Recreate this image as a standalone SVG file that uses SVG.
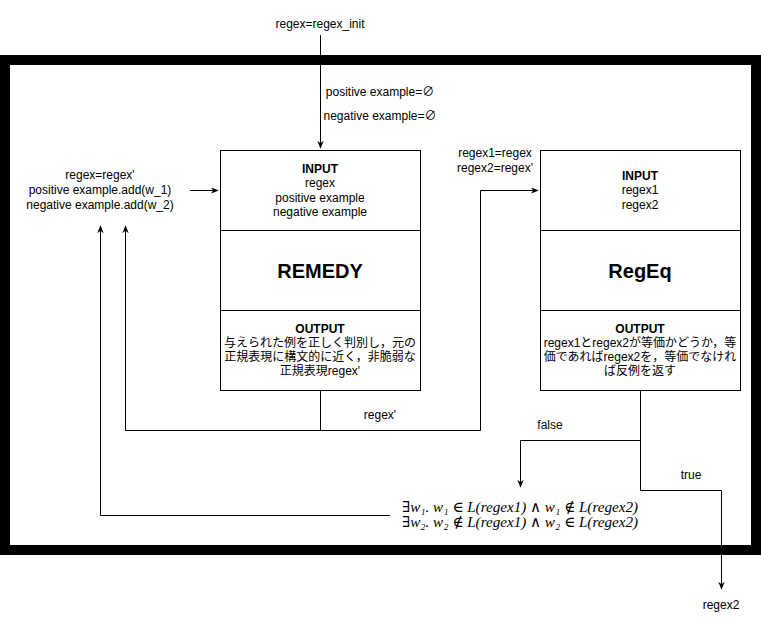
<svg xmlns="http://www.w3.org/2000/svg" width="761" height="621" viewBox="0 0 761 621">
<defs>
<marker id="arr" viewBox="0 0 10 10" refX="9" refY="5" markerWidth="8" markerHeight="8" markerUnits="userSpaceOnUse" orient="auto">
<path d="M0,1 L10,5 L0,9 L3,5 Z" fill="#000"/>
</marker>
</defs>
<style>
text{font-family:"Liberation Sans","Noto Sans CJK JP",sans-serif;font-size:12px;fill:#000}
.c{text-anchor:middle}
.b{font-weight:bold}
.big{font-size:20px;font-weight:bold}
.box{fill:#fff;stroke:#000;stroke-width:1}
.ln{fill:none;stroke:#000;stroke-width:1}
.m{font-family:"Liberation Serif","DejaVu Serif",serif;font-size:15px;font-style:italic}
</style>
<rect width="761" height="621" fill="#fff"/>
<rect id="frame" x="5" y="60" width="751" height="490" fill="none" stroke="#000" stroke-width="10"/>

<g id="connectors">
<path class="ln" d="M320.5,35 V148" marker-end="url(#arr)"/>
<path class="ln" d="M190,190.5 H218" marker-end="url(#arr)"/>
<path class="ln" d="M320.5,390 V430.5 H125.5 V226" marker-end="url(#arr)"/>
<path class="ln" d="M320.5,430.5 H480.5 V190.5 H538" marker-end="url(#arr)"/>
<path class="ln" d="M640.5,390 V440.5 H520.5 V487" marker-end="url(#arr)"/>
<path class="ln" d="M640.5,440 V490.5 H721.5 V589" marker-end="url(#arr)"/>
<path class="ln" d="M390,515.5 H100.5 V226" marker-end="url(#arr)"/>
</g>

<g id="labels">
<text class="c" x="320" y="28">regex=regex_init</text>
<text class="c" x="380" y="96">positive example=∅</text>
<text class="c" x="380" y="120">negative example=∅</text>
<text class="c" x="100" y="179">regex=regex'</text>
<text class="c" x="100" y="194">positive example.add(w_1)</text>
<text class="c" x="100" y="209">negative example.add(w_2)</text>
<text class="c" x="495" y="157">regex1=regex</text>
<text class="c" x="495" y="172">regex2=regex'</text>
<text class="c" x="380" y="419">regex'</text>
<text class="c" x="550" y="429">false</text>
<text class="c" x="691" y="479">true</text>
<text class="c" x="721" y="609">regex2</text>
</g>

<g id="remedy">
<rect class="box" x="220.5" y="150.5" width="200" height="80"/>
<rect class="box" x="220.5" y="230.5" width="200" height="80"/>
<rect class="box" x="220.5" y="310.5" width="200" height="80"/>
<text class="c b" x="320" y="173">INPUT</text>
<text class="c" x="320" y="187">regex</text>
<text class="c" x="320" y="202">positive example</text>
<text class="c" x="320" y="216">negative example</text>
<text class="c big" x="320" y="278">REMEDY</text>
<text class="c b" x="320" y="333">OUTPUT</text>
<text class="c" x="320" y="347">与えられた例を正しく判別し，元の</text>
<text class="c" x="320" y="361">正規表現に構文的に近く，非脆弱な</text>
<text class="c" x="320" y="375">正規表現regex'</text>
</g>

<g id="regeq">
<rect class="box" x="540.5" y="150.5" width="200" height="80"/>
<rect class="box" x="540.5" y="230.5" width="200" height="80"/>
<rect class="box" x="540.5" y="310.5" width="200" height="80"/>
<text class="c b" x="640" y="180">INPUT</text>
<text class="c" x="640" y="194">regex1</text>
<text class="c" x="640" y="209">regex2</text>
<text class="c big" x="640" y="278">RegEq</text>
<text class="c b" x="640" y="333">OUTPUT</text>
<text class="c" x="640" y="347">regex1とregex2が等価かどうか，等</text>
<text class="c" x="640" y="361">価であればregex2を，等価でなけれ</text>
<text class="c" x="640" y="375">ば反例を返す</text>
</g>

<g id="formula">
<text class="m" x="402" y="512" textLength="236" lengthAdjust="spacingAndGlyphs">∃w₁. w₁ ∈ L(regex1) ∧ w₁ ∉ L(regex2)</text>
<text class="m" x="402" y="527" textLength="236" lengthAdjust="spacingAndGlyphs">∃w₂. w₂ ∉ L(regex1) ∧ w₂ ∈ L(regex2)</text>
</g>
</svg>
